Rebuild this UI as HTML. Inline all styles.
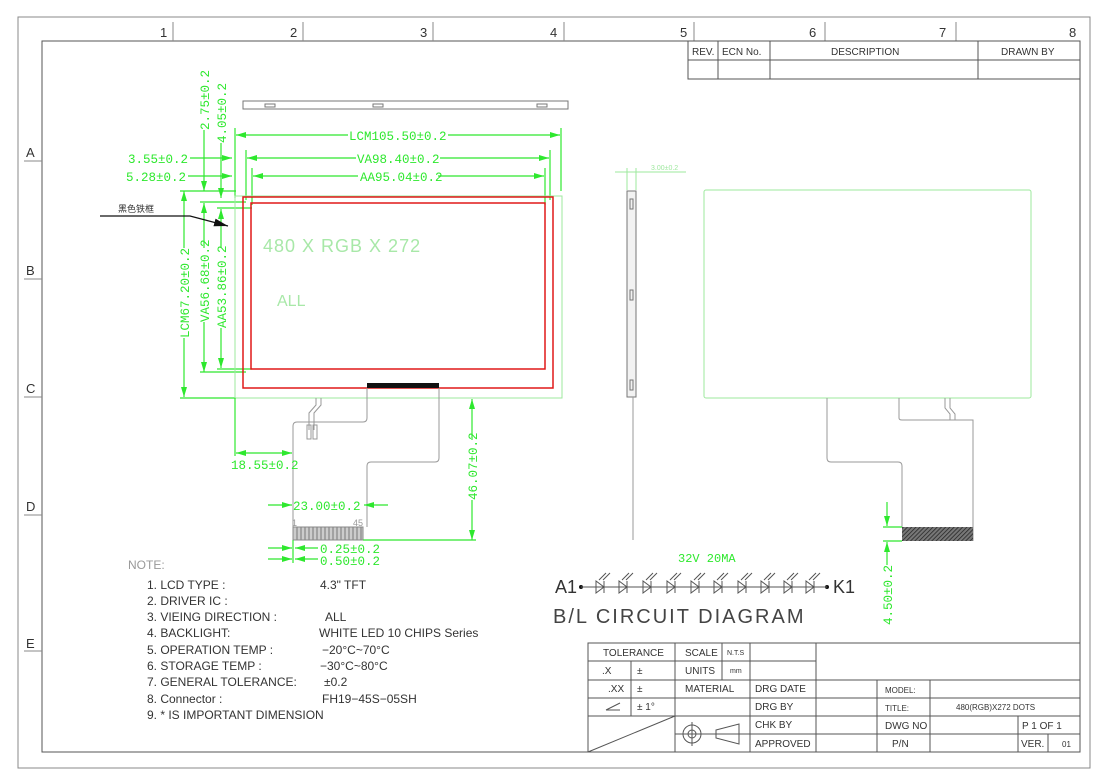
<!DOCTYPE html>
<html><head><meta charset="utf-8"><style>
html,body{margin:0;padding:0;background:#fff;}
svg{display:block;}
text{font-family:"Liberation Sans Narrow","Liberation Sans","Noto Sans CJK SC",sans-serif;}
.g, .g text, text.g{fill:#2ee82e;font-family:"Liberation Mono","Liberation Serif",monospace;}
.k{fill:#333;}
</style></head><body>
<svg width="1104" height="772" viewBox="0 0 1104 772" xmlns="http://www.w3.org/2000/svg">
<defs>
<marker id="ar" viewBox="0 0 10 6" refX="10" refY="3" markerWidth="10" markerHeight="6" orient="auto-start-reverse" markerUnits="userSpaceOnUse"><path d="M0,0 L10,3 L0,6 z" fill="#2ee82e"/></marker>
<marker id="ak" viewBox="0 0 14 8" refX="14" refY="4" markerWidth="14" markerHeight="8" orient="auto" markerUnits="userSpaceOnUse"><path d="M0,0 L14,4 L0,8 z" fill="#111"/></marker>
<pattern id="hatch" width="3" height="3" patternUnits="userSpaceOnUse" patternTransform="rotate(45)"><rect width="3" height="3" fill="#777"/><line x1="0" y1="0" x2="0" y2="3" stroke="#222" stroke-width="1.5"/></pattern>
<pattern id="pins" width="4" height="14" patternUnits="userSpaceOnUse"><rect width="4" height="14" fill="#ccc"/><line x1="1" y1="0" x2="1" y2="14" stroke="#777" stroke-width="1"/></pattern>
</defs>

<rect x="18" y="17" width="1072" height="751" fill="none" stroke="#888" stroke-width="1"/>
<rect x="42" y="41" width="1038" height="711" fill="none" stroke="#555" stroke-width="1"/>
<g stroke="#888" stroke-width="1">
<line x1="173" y1="22" x2="173" y2="41"/><line x1="303" y1="22" x2="303" y2="41"/><line x1="433" y1="22" x2="433" y2="41"/><line x1="564" y1="22" x2="564" y2="41"/><line x1="694" y1="22" x2="694" y2="41"/><line x1="825" y1="22" x2="825" y2="41"/><line x1="956" y1="22" x2="956" y2="41"/>
<line x1="24" y1="161" x2="42" y2="161"/><line x1="24" y1="279" x2="42" y2="279"/><line x1="24" y1="397" x2="42" y2="397"/><line x1="24" y1="515" x2="42" y2="515"/><line x1="24" y1="651" x2="42" y2="651"/>
</g>
<g class="k" font-size="13">
<text x="160" y="37">1</text><text x="290" y="37">2</text><text x="420" y="37">3</text><text x="550" y="37">4</text><text x="680" y="37">5</text><text x="809" y="37">6</text><text x="939" y="37">7</text><text x="1069" y="37">8</text>
<text x="26" y="157">A</text><text x="26" y="275">B</text><text x="26" y="393">C</text><text x="26" y="511">D</text><text x="26" y="648">E</text>
</g>

<g stroke="#555" fill="none" stroke-width="1">
<rect x="688" y="41" width="392" height="38"/>
<line x1="688" y1="60" x2="1080" y2="60"/>
<line x1="718" y1="41" x2="718" y2="79"/><line x1="770" y1="41" x2="770" y2="79"/><line x1="978" y1="41" x2="978" y2="79"/>
</g>
<g class="k" font-size="10">
<text x="692" y="55">REV.</text><text x="722" y="55">ECN No.</text><text x="831" y="55">DESCRIPTION</text><text x="1001" y="55">DRAWN BY</text>
</g>

<rect x="243" y="101" width="325" height="8" fill="none" stroke="#777"/>
<g fill="none" stroke="#777"><rect x="265" y="104" width="10" height="3"/><rect x="373" y="104" width="10" height="3"/><rect x="537" y="104" width="10" height="3"/></g>

<g stroke="#2ee82e" stroke-width="1.2" fill="none">
<line x1="235" y1="128" x2="235" y2="198"/><line x1="561" y1="128" x2="561" y2="191"/>
<line x1="236" y1="135" x2="348" y2="135" marker-start="url(#ar)"/><line x1="448" y1="135" x2="560" y2="135" marker-end="url(#ar)"/>
<line x1="246" y1="150" x2="246" y2="200"/><line x1="550" y1="150" x2="550" y2="200"/>
<line x1="247" y1="158" x2="356" y2="158" marker-start="url(#ar)"/><line x1="440" y1="158" x2="549" y2="158" marker-end="url(#ar)"/>
<line x1="190" y1="158" x2="232" y2="158" marker-end="url(#ar)"/>
<line x1="252" y1="168" x2="252" y2="205"/><line x1="545" y1="168" x2="545" y2="205"/>
<line x1="253" y1="176" x2="358" y2="176" marker-start="url(#ar)"/><line x1="438" y1="176" x2="544" y2="176" marker-end="url(#ar)"/>
<line x1="188" y1="176" x2="232" y2="176" marker-end="url(#ar)"/>
<line x1="184" y1="191" x2="184" y2="248" marker-start="url(#ar)"/><line x1="184" y1="338" x2="184" y2="397" marker-end="url(#ar)"/>
<line x1="180" y1="191" x2="236" y2="191"/><line x1="180" y1="398" x2="236" y2="398"/>
<line x1="204" y1="130" x2="204" y2="191" marker-end="url(#ar)"/><line x1="204" y1="203" x2="204" y2="248" marker-start="url(#ar)"/><line x1="204" y1="322" x2="204" y2="372" marker-end="url(#ar)"/>
<line x1="200" y1="202" x2="246" y2="202"/><line x1="200" y1="372" x2="246" y2="372"/>
<line x1="221" y1="143" x2="221" y2="198" marker-end="url(#ar)"/><line x1="221" y1="209" x2="221" y2="248" marker-start="url(#ar)"/><line x1="221" y1="328" x2="221" y2="368" marker-end="url(#ar)"/>
<line x1="217" y1="208" x2="252" y2="208"/><line x1="217" y1="369" x2="252" y2="369"/>
</g>
<g class="g" font-size="12.5">
<text x="349" y="140">LCM105.50±0.2</text>
<text x="357" y="163">VA98.40±0.2</text>
<text x="360" y="181">AA95.04±0.2</text>
<text x="128" y="163">3.55±0.2</text>
<text x="126" y="181">5.28±0.2</text>
<text transform="translate(189,338) rotate(-90)">LCM67.20±0.2</text>
<text transform="translate(209,322) rotate(-90)">VA56.68±0.2</text>
<text transform="translate(226,328) rotate(-90)">AA53.86±0.2</text>
<text transform="translate(209,130) rotate(-90)">2.75±0.2</text>
<text transform="translate(226,143) rotate(-90)">4.05±0.2</text>
</g>

<rect x="235" y="196" width="327" height="202" fill="none" stroke="#9ee89e" stroke-width="1"/>
<rect x="243" y="197" width="310" height="191" fill="none" stroke="#e01818" stroke-width="1.5"/>
<rect x="251" y="203" width="294" height="166" fill="none" stroke="#e01818" stroke-width="1.5"/>
<rect x="367" y="383" width="72" height="5" fill="#111"/>
<text x="263" y="252" font-size="18" fill="#a8e8a8" letter-spacing="1">480 X RGB X 272</text>
<text x="277" y="306" font-size="16" fill="#a8e8a8">ALL</text>
<text x="118" y="212" font-size="9" class="k">黑色铁框</text>
<polyline points="100,216 190,216 228,226" fill="none" stroke="#111" stroke-width="1.2" marker-end="url(#ak)"/>

<g fill="none" stroke="#999" stroke-width="1">
<path d="M367,388 V418 Q367,422 363,422 H297 Q293,422 293,426 V527"/>
<path d="M439,388 V458 Q439,462 435,462 H371 Q367,462 367,466 V527"/>
<path d="M316,398 V405 L309,413 V430 M321,398 V405 L314,413 V430"/>
<rect x="307" y="425" width="4" height="14"/><rect x="313" y="425" width="4" height="14"/>
</g>
<rect x="293" y="527" width="70" height="13" fill="url(#pins)" stroke="#888"/>
<text x="292" y="526" font-size="9" fill="#999">1</text><text x="353" y="526" font-size="9" fill="#999">45</text>
<g stroke="#2ee82e" stroke-width="1.2" fill="none">
<line x1="235" y1="398" x2="235" y2="456"/>
<line x1="236" y1="453" x2="292" y2="453" marker-start="url(#ar)" marker-end="url(#ar)"/>
<line x1="472" y1="399" x2="472" y2="440" marker-start="url(#ar)"/><line x1="472" y1="500" x2="472" y2="540" marker-end="url(#ar)"/>
<line x1="363" y1="540" x2="476" y2="540"/>
<line x1="268" y1="505" x2="292" y2="505" marker-end="url(#ar)"/><line x1="388" y1="505" x2="364" y2="505" marker-end="url(#ar)"/>
<line x1="268" y1="548" x2="292" y2="548" marker-end="url(#ar)"/><line x1="318" y1="548" x2="295" y2="548" marker-end="url(#ar)"/>
<line x1="268" y1="559" x2="292" y2="559" marker-end="url(#ar)"/><line x1="318" y1="559" x2="295" y2="559" marker-end="url(#ar)"/>
<line x1="293" y1="540" x2="293" y2="563"/>
</g>
<g class="g" font-size="12.5">
<text x="231" y="469">18.55±0.2</text>
<text x="293" y="510">23.00±0.2</text>
<text transform="translate(477,500) rotate(-90)">46.07±0.2</text>
<text x="320" y="553">0.25±0.2</text>
<text x="320" y="565">0.50±0.2</text>
</g>

<rect x="627" y="191" width="9" height="206" fill="#f2f2f2" stroke="#777"/>
<g fill="none" stroke="#777"><rect x="630" y="199" width="3" height="10"/><rect x="630" y="290" width="3" height="10"/><rect x="630" y="380" width="3" height="10"/></g>
<line x1="633" y1="397" x2="633" y2="540" stroke="#999"/>
<g stroke="#9ee89e"><line x1="615" y1="172" x2="686" y2="172"/><line x1="627" y1="168" x2="627" y2="190"/><line x1="636" y1="168" x2="636" y2="190"/></g>
<text x="651" y="170" font-size="7" fill="#9ee89e">3.00±0.2</text>

<rect x="704" y="190" width="327" height="208" rx="2" fill="none" stroke="#9ee89e"/>
<g fill="none" stroke="#999">
<path d="M827,398 V458 Q827,462 831,462 H898 Q902,462 902,466 V527"/>
<path d="M899,398 V418 Q899,420 902,420 H973 V541"/>
<path d="M945,398 V408 L950,414 V420 M950,398 V408 L955,414 V420"/>
</g>
<rect x="902" y="527" width="71" height="14" fill="url(#hatch)"/>
<g stroke="#2ee82e" stroke-width="1.2" fill="none">
<line x1="887" y1="502" x2="887" y2="526" marker-end="url(#ar)"/>
<line x1="887" y1="565" x2="887" y2="542" marker-end="url(#ar)"/>
<line x1="883" y1="527" x2="902" y2="527"/><line x1="883" y1="541" x2="902" y2="541"/>
</g>
<text class="g" font-size="12.5" transform="translate(892,625) rotate(-90)">4.50±0.2</text>

<text class="g" x="678" y="562" font-size="12">32V 20MA</text>
<text x="555" y="593" font-size="18" fill="#333">A1</text>
<text x="833" y="593" font-size="18" fill="#333">K1</text>
<circle cx="581" cy="587" r="2" fill="#111"/><circle cx="827" cy="587" r="2" fill="#111"/>
<line x1="581" y1="587" x2="827" y2="587" stroke="#555"/>
<g stroke="#555" fill="none" stroke-width="1">
<g id="led"><path d="M596,581 V593 L604,587 Z M604,581 V593 M599,580 L606,573 M603,580 L610,573"/></g>
<use href="#led" x="23"/><use href="#led" x="47"/><use href="#led" x="71"/><use href="#led" x="95"/><use href="#led" x="118"/><use href="#led" x="142"/><use href="#led" x="165"/><use href="#led" x="188"/><use href="#led" x="210"/>
</g>
<text x="553" y="623" font-size="20" fill="#444" letter-spacing="2">B/L CIRCUIT DIAGRAM</text>

<g fill="#333" font-size="12">
<text x="128" y="569" fill="#999">NOTE:</text>
<text x="147" y="589">1. LCD TYPE :</text><text x="320" y="589">4.3"   TFT</text>
<text x="147" y="605">2. DRIVER IC :</text>
<text x="147" y="621">3. VIEING DIRECTION :</text><text x="325" y="621">ALL</text>
<text x="147" y="637">4. BACKLIGHT:</text><text x="319" y="637">WHITE LED 10 CHIPS Series</text>
<text x="147" y="654">5. OPERATION TEMP :</text><text x="322" y="654">−20°C~70°C</text>
<text x="147" y="670">6. STORAGE TEMP :</text><text x="320" y="670">−30°C~80°C</text>
<text x="147" y="686">7. GENERAL TOLERANCE:</text><text x="324" y="686">±0.2</text>
<text x="147" y="703">8. Connector :</text><text x="322" y="703">FH19−45S−05SH</text>
<text x="147" y="719">9. * IS IMPORTANT DIMENSION</text>
</g>

<g stroke="#555" fill="none" stroke-width="1">
<rect x="588" y="643" width="492" height="109"/>
<line x1="588" y1="661" x2="816" y2="661"/>
<line x1="588" y1="680" x2="1080" y2="680"/>
<line x1="588" y1="698" x2="1080" y2="698"/>
<line x1="588" y1="716" x2="1080" y2="716"/>
<line x1="675" y1="734" x2="1080" y2="734"/>
<line x1="631" y1="661" x2="631" y2="716"/>
<line x1="675" y1="643" x2="675" y2="752"/>
<line x1="722" y1="643" x2="722" y2="680"/>
<line x1="750" y1="643" x2="750" y2="680"/>
<line x1="750" y1="680" x2="750" y2="752"/>
<line x1="816" y1="643" x2="816" y2="752"/>
<line x1="877" y1="680" x2="877" y2="752"/>
<line x1="930" y1="680" x2="930" y2="752"/>
<line x1="1018" y1="716" x2="1018" y2="752"/>
<line x1="1048" y1="734" x2="1048" y2="752"/>
<line x1="588" y1="752" x2="675" y2="716"/>
<circle cx="692" cy="734" r="9"/><circle cx="692" cy="734" r="4"/>
<line x1="680" y1="734" x2="704" y2="734"/><line x1="692" y1="722" x2="692" y2="746"/>
<path d="M716,730 L739,724 V744 L716,738 Z M709,734 H716"/>
<path d="M606,710 L620,703 M606,710 H620"/>
</g>
<g fill="#333" font-size="10">
<text x="603" y="656">TOLERANCE</text><text x="685" y="656">SCALE</text><text x="727" y="655" font-size="7">N.T.S</text>
<text x="602" y="674">.X</text><text x="637" y="674">±</text><text x="685" y="674">UNITS</text><text x="730" y="673" font-size="7">mm</text>
<text x="608" y="692">.XX</text><text x="637" y="692">±</text><text x="685" y="692">MATERIAL</text><text x="755" y="692">DRG DATE</text>
<text x="637" y="710">± 1°</text><text x="755" y="710">DRG BY</text>
<text x="755" y="728">CHK BY</text><text x="755" y="747">APPROVED</text>
<text x="885" y="693" font-size="8">MODEL:</text><text x="885" y="711" font-size="8">TITLE:</text>
<text x="885" y="729">DWG NO</text><text x="892" y="747">P/N</text>
<text x="956" y="710" font-size="8" font-family="Liberation Serif,serif">480(RGB)X272 DOTS</text>
<text x="1022" y="729">P  1 OF  1</text><text x="1021" y="747">VER.</text><text x="1062" y="747" font-size="8">01</text>
</g>
</svg>
</body></html>
